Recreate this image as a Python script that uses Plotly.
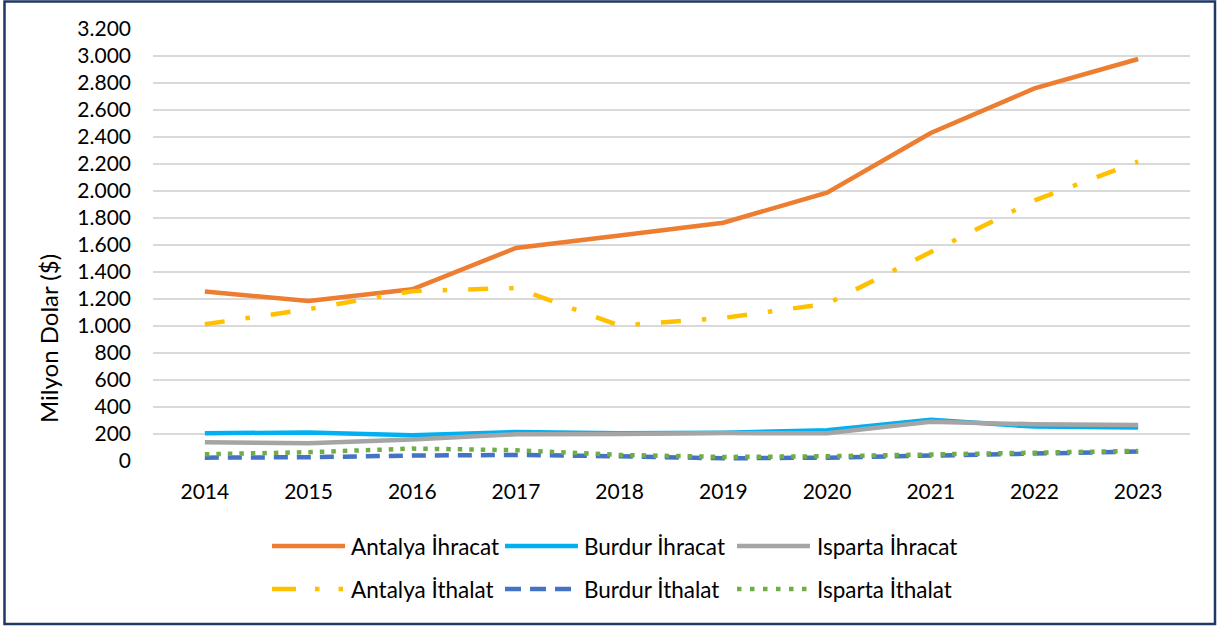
import plotly.graph_objects as go

years = ["2014", "2015", "2016", "2017", "2018", "2019", "2020", "2021", "2022", "2023"]

antalya_ihracat = [1255, 1185, 1272, 1578, 1670, 1765, 1988, 2430, 2760, 2978]
burdur_ihracat = [205, 212, 190, 215, 205, 210, 228, 305, 255, 248]
isparta_ihracat = [138, 131, 160, 198, 200, 207, 205, 290, 272, 267]
antalya_ithalat = [1013, 1125, 1258, 1282, 1003, 1060, 1165, 1545, 1930, 2218]
burdur_ithalat = [25, 28, 40, 45, 35, 20, 25, 40, 60, 70]
isparta_ithalat = [50, 65, 92, 80, 45, 30, 35, 50, 68, 75]

y_ticks = list(range(0, 3201, 200))

series = [
    ("Antalya İhracat", antalya_ihracat, "#ed7d31", "solid"),
    ("Burdur İhracat", burdur_ihracat, "#00b0f0", "solid"),
    ("Isparta İhracat", isparta_ihracat, "#a5a5a5", "solid"),
    ("Antalya İthalat", antalya_ithalat, "#ffc000", "20px,21px,4.5px,21px"),
    ("Burdur İthalat", burdur_ithalat, "#4472c4", "14px,9px"),
    ("Isparta İthalat", isparta_ithalat, "#70ad47", "4.5px,7px"),
]
legend_dash = ["solid", "solid", "solid", "24px,19px,4.5px,19px,4.5px,20px", "16px,9px", "4.5px,8.5px"]

FONT = "Lato"
fig = go.Figure()
for name, vals, color, dash in series:
    fig.add_trace(go.Scatter(
        x=years, y=vals, name=name, mode="lines",
        line=dict(color=color, width=4.5, dash=dash),
        showlegend=False, hoverinfo="x+y+name",
    ))

# plot area in pixels
L, R, T, B = 153, 1190, 29, 461
W, H = R - L, B - T
def px(x):
    return (x - L) / W
def py(y):
    return (B - y) / H

shapes = []
annotations = []
rows = [546, 589]
cols = [(272, 345, 349), (505, 578, 582), (737, 810, 815)]
for i, (name, vals, color, dash) in enumerate(series):
    r = rows[i // 3]
    x0, x1, tx = cols[i % 3]
    shapes.append(dict(type="line", xref="paper", yref="paper",
                       x0=px(x0), x1=px(x1), y0=py(r), y1=py(r),
                       line=dict(color=color, width=4.5, dash=legend_dash[i])))
    annotations.append(dict(text=name, xref="paper", yref="paper",
                            x=px(tx), y=py(r), xanchor="left", yanchor="middle",
                            showarrow=False, font=dict(family=FONT, size=22.5, color="#000000")))

# y axis title
annotations.append(dict(text="Milyon Dolar ($)", xref="paper", yref="paper",
                        x=px(48), y=py(339), xanchor="center", yanchor="middle",
                        textangle=-90, showarrow=False,
                        font=dict(family=FONT, size=24, color="#000000")))

# outer border
shapes.append(dict(type="rect", xref="paper", yref="paper",
                   x0=px(4.5), x1=px(1215), y0=py(1.5), y1=py(624),
                   line=dict(color="#1f3864", width=2.5), layer="above"))

fig.update_layout(
    width=1219, height=628,
    margin=dict(l=L, r=1219 - R, t=T, b=628 - B, autoexpand=False),
    paper_bgcolor="white", plot_bgcolor="white",
    separators=",.",
    font=dict(family=FONT, size=21, color="#000000"),
    shapes=shapes, annotations=annotations,
    showlegend=False,
    xaxis=dict(type="category", range=[-0.5, 9.5], showgrid=False, zeroline=False, showline=False,
               ticks="", ticklabelstandoff=16, tickfont=dict(family=FONT, size=21),
               automargin=False),
    yaxis=dict(range=[0, 3200], tickvals=y_ticks, tickformat=",d",
               showgrid=True, gridcolor="#d9d9d9", gridwidth=1.5,
               zeroline=False, showline=False, ticks="", ticklabelstandoff=21,
               tickfont=dict(family=FONT, size=21), automargin=False),
)

fig.write_html("out.html",
               config={"displayModeBar": False},
               post_script="document.body.style.margin='0';document.body.style.overflow='hidden';")
